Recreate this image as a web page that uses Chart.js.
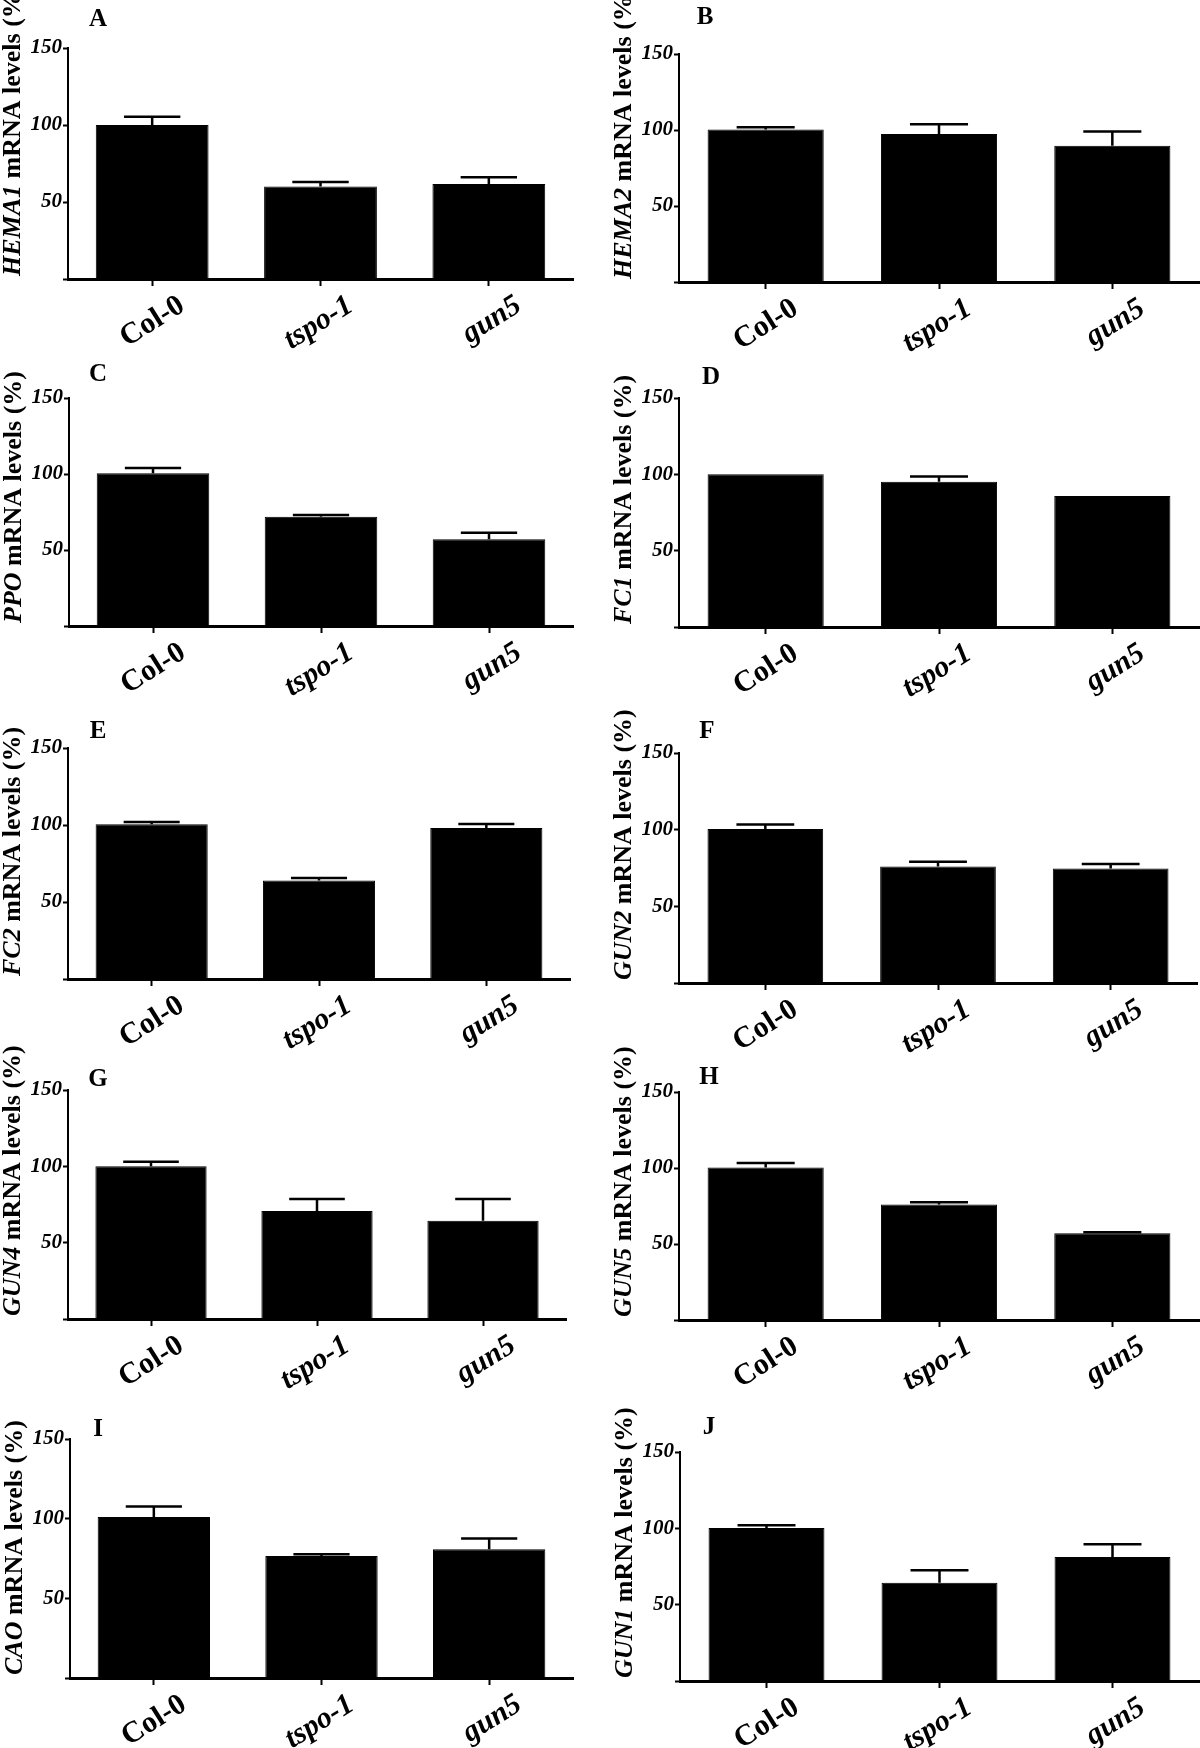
<!DOCTYPE html>
<html>
<head>
<meta charset="utf-8">
<script src="https://cdn.jsdelivr.net/npm/chart.js@4.4.1/dist/chart.umd.min.js"></script>
<style>
  html, body { margin: 0; padding: 0; background: #fff; }
  #page { position: relative; width: 1200px; height: 1748px; overflow: hidden; background: #fff; }
  #page canvas { position: absolute; }
</style>
</head>
<body>
<div id="page"></div>
<script>
// categories and labels
var groups = ['Col-0', 'tspo-1', 'gun5'];
var italicGroup = [false, true, true];
var panelLetters = ['A', 'B', 'C', 'D', 'E', 'F', 'G', 'H', 'I', 'J'];
var genes = ['HEMA1', 'HEMA2', 'PPO', 'FC1', 'FC2', 'GUN2', 'GUN4', 'GUN5', 'CAO', 'GUN1'];
var yMax = 150;
var yStep = 50;

var hema1 = [100, 60, 61.7],    hema1Err = [5.4, 3, 4.3];
var hema2 = [100.3, 97.4, 89.7], hema2Err = [1.5, 6.4, 9.3];
var ppo   = [100.5, 71.8, 57],   ppoErr   = [3.5, 1.3, 4.3];
var fc1   = [100, 95.2, 85.8],   fc1Err   = [0.5, 3.3, 0.5];
var fc2   = [100.5, 64, 98],     fc2Err   = [1.5, 1.6, 2.6];
var gun2  = [100.4, 76, 74.6],   gun2Err  = [2.9, 3, 3];
var gun4  = [100, 70.8, 64.3],   gun4Err  = [3, 7.8, 14.3];
var gun5  = [100.3, 76, 57],     gun5Err  = [3, 1.5, 0.8];
var cao   = [101, 76.6, 80.8],   caoErr   = [6.6, 1.1, 6.7];
var gun1  = [100.3, 64.3, 81.3], gun1Err  = [1.7, 8.3, 8.3];

var means  = [hema1, hema2, ppo, fc1, fc2, gun2, gun4, gun5, cao, gun1];
var errors = [hema1Err, hema2Err, ppoErr, fc1Err, fc2Err, gun2Err, gun4Err, gun5Err, caoErr, gun1Err];

// layout: plot area of each panel on the page (left, top, right, bottom)
var areas = [
  [68, 48, 573, 279],   [679, 54, 1199, 282],
  [69, 398, 573, 626],  [679, 398, 1199, 627],
  [68, 748, 570, 979],  [679, 753, 1197, 983],
  [68, 1090, 566, 1319], [679, 1092, 1199, 1320],
  [70, 1439, 573, 1678], [680, 1452, 1199, 1681]
];
var letterPos = [
  [98, 20], [705, 18], [98, 375], [711, 378], [98, 732],
  [707, 732], [98, 1080], [709, 1078], [98, 1430], [709, 1428]
];

var serif = '"Liberation Serif", "Times New Roman", serif';

// error bars, y title with italic gene name, panel letter
var extras = {
  id: 'extras',
  afterDatasetsDraw: function(chart, args, opts) {
    var ctx = chart.ctx;
    var meta = chart.getDatasetMeta(0);
    var y = chart.scales.y;
    var vals = chart.data.datasets[0].data;
    ctx.save();
    ctx.strokeStyle = '#000';
    ctx.lineWidth = 2.5;
    meta.data.forEach(function(bar, i) {
      if (!opts.errors[i] || opts.errors[i] < 0.8) return;
      var top = y.getPixelForValue(vals[i] + opts.errors[i]);
      var half = bar.width / 4;
      ctx.beginPath();
      ctx.moveTo(bar.x, bar.y);
      ctx.lineTo(bar.x, top);
      ctx.moveTo(bar.x - half, top);
      ctx.lineTo(bar.x + half, top);
      ctx.stroke();
    });
    ctx.restore();
  },
  afterDraw: function(chart, args, opts) {
    var ctx = chart.ctx;
    var area = chart.chartArea;
    ctx.save();
    ctx.fillStyle = '#000';
    ctx.translate(area.left - 55, area.bottom - 3);
    ctx.rotate(-Math.PI / 2);
    ctx.textBaseline = 'middle';
    ctx.textAlign = 'left';
    ctx.font = 'italic bold 26px ' + serif;
    ctx.fillText(opts.gene, 0, 0);
    var w = ctx.measureText(opts.gene).width;
    ctx.font = 'bold 26px ' + serif;
    ctx.fillText(' mRNA levels (%)', w, 0);
    ctx.restore();

    ctx.save();
    ctx.fillStyle = '#000';
    ctx.font = 'bold 25px ' + serif;
    ctx.textAlign = 'center';
    ctx.textBaseline = 'middle';
    ctx.fillText(opts.letter, opts.lx, opts.ly);
    ctx.restore();
  }
};

var page = document.getElementById('page');

genes.forEach(function(gene, k) {
  var a = areas[k];
  var left = (k % 2) * 600;
  var top = a[1] - 70;
  var w = 600;
  var h = a[3] - a[1] + 160;

  var cv = document.createElement('canvas');
  cv.width = w;
  cv.height = h;
  cv.style.left = left + 'px';
  cv.style.top = top + 'px';
  cv.style.width = w + 'px';
  cv.style.height = h + 'px';
  page.appendChild(cv);

  new Chart(cv, {
    type: 'bar',
    data: {
      labels: groups,
      datasets: [{
        data: means[k],
        backgroundColor: '#000',
        borderColor: '#000',
        borderWidth: 1,
        barPercentage: 0.67,
        categoryPercentage: 1
      }]
    },
    options: {
      responsive: false,
      animation: false,
      devicePixelRatio: 1,
      layout: {
        padding: { left: 0, top: a[1] - top, right: left + w - a[2], bottom: 0 }
      },
      plugins: {
        legend: { display: false },
        tooltip: { enabled: false },
        extras: {
          gene: gene,
          letter: panelLetters[k],
          lx: letterPos[k][0] - left,
          ly: letterPos[k][1] - top,
          errors: errors[k]
        }
      },
      scales: {
        x: {
          border: { color: '#000', width: 3 },
          grid: { drawOnChartArea: false, offset: false, color: '#000', tickColor: '#000', tickLength: 7, tickWidth: 2 },
          ticks: {
            color: '#000',
            autoSkip: false,
            minRotation: 32,
            maxRotation: 32,
            padding: 2,
            labelOffset: 30,
            font: function(c) {
              return { family: serif, size: 30, weight: 'bold', style: italicGroup[c.index] ? 'italic' : 'normal' };
            }
          },
          afterFit: function(s) { s.height = 90; }
        },
        y: {
          min: 0,
          max: yMax,
          border: { color: '#000', width: 2 },
          grid: { drawOnChartArea: false, color: '#000', tickColor: '#000', tickLength: 5, tickWidth: 2 },
          ticks: {
            stepSize: yStep,
            color: '#000',
            padding: 1,
            font: { family: serif, size: 21, weight: 'bold', style: 'italic' },
            callback: function(v) { return v === 0 ? '' : v; }
          },
          afterFit: function(s) { s.width = a[0] - left; }
        }
      }
    },
    plugins: [extras]
  });
});
</script>
</body>
</html>
